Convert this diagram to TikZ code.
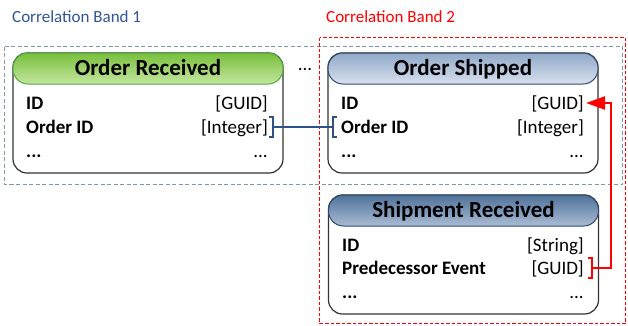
\documentclass[tikz,border=0pt]{standalone}
\usepackage{fontspec}
\setmainfont{Carlito}
\usetikzlibrary{arrows.meta,calc}
\definecolor{bandblue}{HTML}{8497B0}
\definecolor{labelblue}{HTML}{2F5597}
\definecolor{connblue}{HTML}{2E5288}
\definecolor{boxline}{HTML}{333333}
\definecolor{greenline}{HTML}{4CAF3C}
\definecolor{greentop}{HTML}{78C03C}
\definecolor{greenbot}{HTML}{C4E6A0}
\definecolor{navyline}{HTML}{2F4A6F}
\definecolor{paletop}{HTML}{90A8C8}
\definecolor{palebot}{HTML}{D8E1EE}
\definecolor{darktop}{HTML}{4F7299}
\definecolor{darkbot}{HTML}{AABCD5}
\begin{document}
\begin{tikzpicture}[x=1pt,y=-1pt,
  blueband/.style={draw=bandblue,line width=1.3pt,dash pattern=on 4pt off 2.5pt},
  redband/.style={draw=red,line width=1.1pt,dash pattern=on 3.5pt off 2pt},
  bodybox/.style={draw=boxline,line width=1.2pt,fill=white,rounded corners=14pt,
    minimum width=270pt,minimum height=120pt,inner sep=0pt},
  headbox/.style={line width=1pt,rounded corners=15pt,
    minimum width=270pt,minimum height=31pt,inner sep=0pt},
  title/.style={anchor=base,inner sep=0pt,font=\bfseries\fontsize{23}{23}\selectfont},
  lt/.style={anchor=base west,inner sep=0pt,font=\bfseries\fontsize{19}{19}\selectfont},
  rt/.style={anchor=base east,inner sep=0pt,font=\fontsize{19}{19}\selectfont},
  bandlabel/.style={anchor=base west,inner sep=0pt,font=\fontsize{17}{17}\selectfont},
  blueconn/.style={draw=connblue,line width=2pt},
  redconn/.style={draw=red,line width=2.2pt}]
\useasboundingbox (0,0) rectangle (628,325);

% correlation bands
\draw[blueband] (4.5,46.5) rectangle (622.5,184.5);
\draw[redband] (319.5,37.5) rectangle (625.5,323.5);
\node[bandlabel,text=labelblue] (lb1) at (12,22.5) {Correlation Band 1};
\node[bandlabel,text=red] (lb2) at (326,22.5) {Correlation Band 2};

% Order Received
\node[bodybox] (orBody) at (148,113) {};
\node[headbox,draw=greenline,top color=greentop,bottom color=greenbot] (orHead) at (148,68.5) {};
\node[title] (orTitle) at ($(orHead.center)+(0,7)$) {Order Received};
\node[lt] (orIdL) at (26,109) {ID};
\node[rt] (orIdR) at (268,109) {[GUID]};
\node[lt] (orOrdL) at (26,133) {Order ID};
\node[rt] (orOrdR) at (268,133) {[Integer]};
\node[lt] (orDotL) at (26,157) {...};
\node[rt] (orDotR) at (268,157) {...};

\node[rt,anchor=base] (gap) at (305,70) {...};

% Order Shipped
\node[bodybox] (osBody) at (463,113) {};
\node[headbox,draw=navyline,top color=paletop,bottom color=palebot] (osHead) at (463,68.5) {};
\node[title] (osTitle) at ($(osHead.center)+(0,7)$) {Order Shipped};
\node[lt] (osIdL) at (341,109) {ID};
\node[rt] (osIdR) at (584,109) {[GUID]};
\node[lt] (osOrdL) at (341,133) {Order ID};
\node[rt] (osOrdR) at (584,133) {[Integer]};
\node[lt] (osDotL) at (341,157) {...};
\node[rt] (osDotR) at (584,157) {...};

% Shipment Received
\node[bodybox,minimum height=119pt] (srBody) at (463.5,254.5) {};
\node[headbox,draw=navyline,top color=darktop,bottom color=darkbot] (srHead) at (463.5,210.5) {};
\node[title] (srTitle) at ($(srHead.center)+(0,7)$) {Shipment Received};
\node[lt] (srIdL) at (342,251) {ID};
\node[rt] (srIdR) at (584,251) {[String]};
\node[lt] (srPredL) at (342,274) {Predecessor Event};
\node[rt] (srPredR) at (584,274) {[GUID]};
\node[lt] (srDotL) at (342,298) {...};
\node[rt] (srDotR) at (584,298) {...};

% Order ID link between the two events
\coordinate (bA) at ($(orOrdR.base east)+(5,-6)$);
\coordinate (bB) at ($(osOrdL.base west)+(-8,-6)$);
\draw[blueconn] ($(bA)+(-4,-10)$) -- ($(bA)+(0,-10)$) -- ($(bA)+(0,10)$) -- ($(bA)+(-4,10)$);
\draw[blueconn] (bA) -- (bB);
\draw[blueconn] ($(bB)+(4,-10)$) -- ($(bB)+(0,-10)$) -- ($(bB)+(0,10)$) -- ($(bB)+(4,10)$);

% predecessor reference
\coordinate (rA) at ($(srPredR.base east)+(8,-6)$);
\coordinate (rB) at ($(osIdR.base east)+(2,-6)$);
\draw[redconn] ($(rA)+(-4,-10)$) -- ($(rA)+(0,-10)$) -- ($(rA)+(0,10)$) -- ($(rA)+(-4,10)$);
\draw[redconn,-{Triangle[length=19pt,width=13pt]}] (rA) -- ++(19,0) |- (rB);
\end{tikzpicture}
\end{document}
